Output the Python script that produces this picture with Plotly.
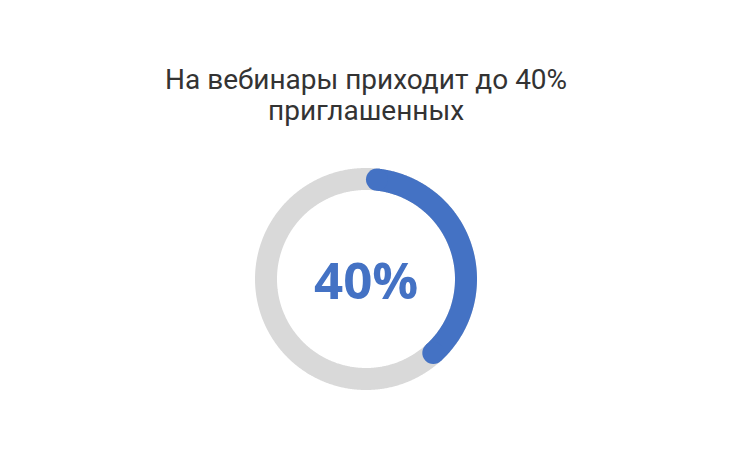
import numpy as np
import plotly.graph_objects as go

# Данные
title_lines = ["На вебинары приходит до 40%", "приглашенных"]
share_pct = 40
label = f"{share_pct}%"

ring_color = "#d9d9d9"
arc_color = "#4472c4"

# геометрия (единица = 100 px), центр кольца в пикселях фигуры
cx, cy = 358, 271
W, H = 730, 460
r = 1.0
line_w = 22
cap = np.degrees((line_w / 2) / 100 / r)

fig = go.Figure()

# серое кольцо
t = np.linspace(0, 360, 721)
fig.add_trace(go.Scatter(
    x=r * np.sin(np.radians(t)), y=r * np.cos(np.radians(t)),
    mode="lines", line=dict(color=ring_color, width=line_w, simplify=False),
    hoverinfo="skip", showlegend=False,
))

# синяя дуга со скруглёнными концами
a0, a1 = cap, 360 * share_pct / 100 - cap
t = np.linspace(a0, a1, 300)
fig.add_trace(go.Scatter(
    x=r * np.sin(np.radians(t)), y=r * np.cos(np.radians(t)),
    mode="lines", line=dict(color=arc_color, width=line_w, simplify=False),
    hoverinfo="skip", showlegend=False,
))
fig.add_trace(go.Scatter(
    x=r * np.sin(np.radians([a0, a1])), y=r * np.cos(np.radians([a0, a1])),
    mode="markers", marker=dict(color=arc_color, size=line_w, line=dict(width=0)),
    hoverinfo="skip", showlegend=False,
))

fig.add_annotation(
    x=0, y=0, xref="x", yref="y", text=f"<b>{label}</b>", showarrow=False,
    font=dict(family="Open Sans", size=51, color=arc_color),
)

# заголовок в две строки
for line, py in zip(title_lines, [71, 102]):
    fig.add_annotation(
        x=cx / W, y=1 - py / H, xref="paper", yref="paper",
        text=line, showarrow=False,
        font=dict(family="Roboto", size=28, color="#333333"),
        xanchor="center", yanchor="middle",
    )

fig.update_layout(
    width=W, height=H,
    margin=dict(l=0, r=0, t=0, b=0),
    paper_bgcolor="white", plot_bgcolor="white",
    xaxis=dict(range=[-cx / 100, (W - cx) / 100], visible=False, fixedrange=True),
    yaxis=dict(range=[-(H - cy) / 100, cy / 100], visible=False, fixedrange=True),
)

fig.write_html("out.html")
